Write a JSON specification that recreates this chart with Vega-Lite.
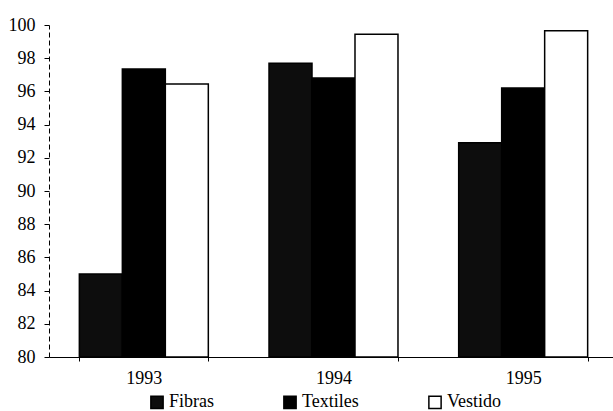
{
  "$schema": "https://vega.github.io/schema/vega-lite/v6.json",
  "width": 569,
  "height": 332,
  "autosize": "none",
  "padding": {"left": 49, "top": 25, "right": 0, "bottom": 54},
  "background": "white",
  "config": {
    "view": {"stroke": null},
    "font": "Liberation Serif",
    "legend": {"labelFont": "Liberation Serif"},
    "axis": {"labelFont": "Liberation Serif"}
  },
  "data": {
    "values": [
      {"year": "1993", "serie": "Fibras", "valor": 85.0},
      {"year": "1993", "serie": "Textiles", "valor": 97.35},
      {"year": "1993", "serie": "Vestido", "valor": 96.45},
      {"year": "1994", "serie": "Fibras", "valor": 97.7},
      {"year": "1994", "serie": "Textiles", "valor": 96.8},
      {"year": "1994", "serie": "Vestido", "valor": 99.45},
      {"year": "1995", "serie": "Fibras", "valor": 92.9},
      {"year": "1995", "serie": "Textiles", "valor": 96.2},
      {"year": "1995", "serie": "Vestido", "valor": 99.65}
    ]
  },
  "mark": {"type": "bar", "stroke": "#000", "strokeWidth": 1.5},
  "encoding": {
    "x": {
      "field": "year",
      "type": "nominal",
      "scale": {"paddingInner": 0.32, "paddingOuter": 0.16},
      "axis": {
        "title": null,
        "labelAngle": 0,
        "labelFontSize": 18,
        "labelColor": "#000",
        "labelPadding": 8,
        "domainColor": "#000",
        "domainWidth": 1.2,
        "tickColor": "#000",
        "tickSize": 4,
        "tickBand": "extent"
      }
    },
    "xOffset": {"field": "serie", "type": "nominal", "scale": {"paddingInner": 0, "paddingOuter": 0}},
    "y": {
      "field": "valor",
      "type": "quantitative",
      "scale": {"domain": [80, 100], "nice": false, "zero": false},
      "axis": {
        "title": null,
        "values": [80, 82, 84, 86, 88, 90, 92, 94, 96, 98, 100],
        "grid": false,
        "labelFontSize": 18,
        "labelColor": "#000",
        "labelPadding": 9,
        "domainColor": "#000",
        "domainWidth": 1,
        "domainDash": [5, 3],
        "tickColor": "#000",
        "tickSize": 5,
        "tickWidth": 1
      }
    },
    "y2": {"datum": 80},
    "fill": {
      "field": "serie",
      "type": "nominal",
      "scale": {"domain": ["Fibras", "Textiles", "Vestido"], "range": ["#0d0d0d", "#000000", "#ffffff"]},
      "legend": {
        "title": null,
        "orient": "none",
        "direction": "horizontal",
        "legendX": 99,
        "legendY": 368,
        "symbolType": "square",
        "symbolSize": 150,
        "symbolStrokeColor": "#000",
        "symbolStrokeWidth": 1.5,
        "symbolOffset": 0,
        "labelFontSize": 18,
        "labelColor": "#000",
        "labelOffset": 3,
        "columnPadding": 66
      }
    }
  }
}
